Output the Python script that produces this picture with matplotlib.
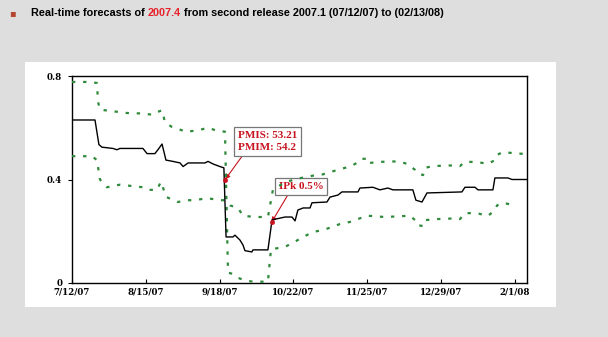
import matplotlib
matplotlib.use("Agg")
import matplotlib.pyplot as plt
import pandas as pd
from matplotlib.patches import Rectangle

# release date of the first forecast; x values are days after it
start = pd.Timestamp("2007-07-12")

# point forecast (black line)
central_days = [0, 10.6, 12.4, 13.8, 18.9, 20.7, 22.1, 32.7, 34.6, 38.2, 39.6, 41.5, 43.3,
                46.5, 49.8, 51.2, 53.5, 61.3, 62.7, 65, 68.2, 70, 71, 74.2, 75.1, 77.4,
                78.8, 79.7, 82.9, 83.4, 90.3, 92.2, 98.2, 101.4, 102.8, 104.1, 106.5,
                109.7, 110.6, 117.5, 118.9, 122.6, 124.4, 131.8, 132.7, 138.7, 141.9,
                145.6, 147.9, 157.1, 158.5, 161.3, 163.6, 179.7, 181.1, 185.7, 187.1,
                194, 194.9, 200.9, 202.8, 209.7]
central_vals = [0.63, 0.63, 0.535, 0.525, 0.52, 0.515, 0.52, 0.52, 0.50, 0.50, 0.515, 0.537,
                0.475, 0.47, 0.464, 0.45, 0.464, 0.464, 0.47, 0.46, 0.45, 0.445, 0.178,
                0.178, 0.185, 0.166, 0.147, 0.125, 0.12, 0.128, 0.128, 0.244, 0.255,
                0.255, 0.24, 0.282, 0.29, 0.29, 0.31, 0.313, 0.332, 0.34, 0.352, 0.352,
                0.367, 0.37, 0.36, 0.367, 0.36, 0.36, 0.32, 0.313, 0.348, 0.352, 0.37,
                0.37, 0.36, 0.36, 0.406, 0.406, 0.40, 0.40]

# first band (starts on top, falls to ~0 in the dip, ends below)
band_a_days = [0, 8.3, 11.5, 12.0, 12.9, 25.3, 32.7, 37.3, 39.2, 41.5, 42.9, 46.1, 50.7,
               52.1, 58.1, 62.7, 67.3, 70.5, 71.9, 74.2, 76.5, 79.7, 83.4, 90.3, 91.7,
               98.2, 101.8, 106.5, 111.1, 115.7, 119.8, 123.5, 128.1, 132.7, 136.4,
               144.2, 155.8, 158.1, 159.0, 161.8, 162.7, 168.2, 177.4, 178.8, 181.1,
               186.6, 191.7, 194.9, 195.9, 198.6, 204.1]
band_a_vals = [0.777, 0.777, 0.773, 0.70, 0.67, 0.657, 0.655, 0.65, 0.66, 0.668, 0.62, 0.603,
               0.59, 0.584, 0.59, 0.60, 0.587, 0.585, 0.04, 0.035, 0.02, 0.01, 0.005, 0.005,
               0.13, 0.14, 0.155, 0.178, 0.197, 0.205, 0.216, 0.228, 0.236, 0.25, 0.26,
               0.255, 0.26, 0.243, 0.224, 0.22, 0.243, 0.247, 0.25, 0.247, 0.27, 0.27,
               0.259, 0.282, 0.30, 0.31, 0.30]

# second band (starts below, ends on top)
band_b_days = [0, 9.2, 11.5, 12.9, 16.1, 22.1, 32.7, 35.0, 39.2, 40.6, 41.5, 41.9, 43.3,
               48.8, 53.0, 56.7, 62.2, 68.2, 70.5, 72.8, 76.5, 78.8, 84.3, 90.3, 92.6,
               98.2, 105.1, 111.1, 115.7, 123.5, 128.1, 132.7, 133.6, 135.9, 136.4,
               141.0, 150.2, 154.8, 158.1, 159.0, 161.8, 162.7, 166.4, 177.4, 178.8,
               181.1, 186.6, 191.7, 194.9, 195.9, 198.6, 203.2, 209.7]
band_b_vals = [0.49, 0.49, 0.475, 0.40, 0.37, 0.38, 0.37, 0.36, 0.36, 0.385, 0.39, 0.37,
               0.333, 0.313, 0.32, 0.32, 0.328, 0.32, 0.32, 0.30, 0.29, 0.26, 0.255, 0.255,
               0.36, 0.39, 0.405, 0.415, 0.42, 0.44, 0.45, 0.47, 0.48, 0.48, 0.463, 0.468,
               0.47, 0.46, 0.437, 0.425, 0.417, 0.445, 0.452, 0.455, 0.452, 0.468, 0.468,
               0.46, 0.475, 0.495, 0.506, 0.502, 0.498]

tick_dates = ["2007-07-12", "2007-08-15", "2007-09-18", "2007-10-22",
              "2007-11-25", "2007-12-29", "2008-02-01"]
tick_labels = ["7/12/07", "8/15/07", "9/18/07", "10/22/07", "11/25/07", "12/29/07", "2/1/08"]
y_ticks = [0, 0.4, 0.8]
y_labels = ["0", "0.4", "0.8"]

# news annotations: (day, value of the point, text)
news = [(70.6, 0.40, "PMIS: 53.21\nPMIM: 54.2"),
        (92.0, 0.235, "IPk 0.5%")]


def to_dates(days):
    return start + pd.to_timedelta(days, unit="D")


fig = plt.figure(figsize=(6.08, 3.37), dpi=100)
fig.patch.set_facecolor("#dedede")
fig.patches.append(Rectangle((25 / 608, 30 / 337), 531 / 608, 245 / 337,
                             transform=fig.transFigure, facecolor="white",
                             edgecolor="none", zorder=-1))

ax = fig.add_axes([72 / 608, 54 / 337, 455 / 608, 207 / 337])
ax.set_facecolor("white")

green = "#2f8a3c"
ax.plot(to_dates(band_a_days), band_a_vals, color=green, lw=1.6,
        linestyle=(0, (1.5, 3.5)), zorder=3)
ax.plot(to_dates(band_b_days), band_b_vals, color=green, lw=1.6,
        linestyle=(0, (1.5, 3.5)), zorder=3)
ax.plot(to_dates(central_days), central_vals, color="black", lw=1.0, zorder=4)

ax.set_xlim(start, start + pd.Timedelta(days=209.7))
ax.set_ylim(0, 0.8)
ax.set_xticks(pd.to_datetime(tick_dates))
ax.set_xticklabels(tick_labels)
ax.set_yticks(y_ticks)
ax.set_yticklabels(y_labels)
for lab in ax.get_xticklabels() + ax.get_yticklabels():
    lab.set_fontfamily("DejaVu Serif")
    lab.set_fontweight("bold")
    lab.set_fontsize(6.2)
ax.tick_params(axis="x", direction="in", length=3, width=0.8, pad=3)
ax.tick_params(axis="y", direction="out", length=3, width=0.8, pad=4)
for s in ax.spines.values():
    s.set_linewidth(1.0)
    s.set_color("black")

red = "#c8141e"
box_pos = [((90.1, 0.547), (0.12, 0.0)), ((105.5, 0.373), (0.26, 0.0))]
for (d, v, txt), ((bd, bv), rel) in zip(news, box_pos):
    pt = start + pd.Timedelta(days=d)
    ax.annotate(txt, xy=(pt, v), xytext=(start + pd.Timedelta(days=bd), bv),
                ha="center", va="center", fontsize=8, fontweight="bold",
                family="Liberation Serif", color=red, linespacing=1.5,
                bbox=dict(boxstyle="square,pad=0.35", fc="white", ec="#777777", lw=0.9),
                arrowprops=dict(arrowstyle="-|>", color=red, lw=0.8,
                                mutation_scale=7, relpos=rel, shrinkA=0, shrinkB=0),
                zorder=2)
    ax.plot([pt], [v], "o", color=red, ms=2.5, zorder=5)

# title with the red period in the middle
fig.text(12 / 608, 1 - 13 / 337, "\u25aa", color="#b5452e", fontsize=7,
         ha="center", va="center", family="DejaVu Sans")
parts = [("Real-time forecasts of ", "black"), ("2007.4", "#e8202a"),
         (" from second release 2007.1 (07/12/07) to (02/13/08)", "black")]
fig.canvas.draw()
r = fig.canvas.get_renderer()
x = 31
for txt, col in parts:
    t = fig.text(x / 608, 1 - 13 / 337, txt, color=col, fontsize=7.8,
                 fontweight="bold", family="Liberation Sans", va="center", ha="left")
    x += t.get_window_extent(renderer=r).width

fig.savefig("out.png", dpi=100, facecolor=fig.get_facecolor())
